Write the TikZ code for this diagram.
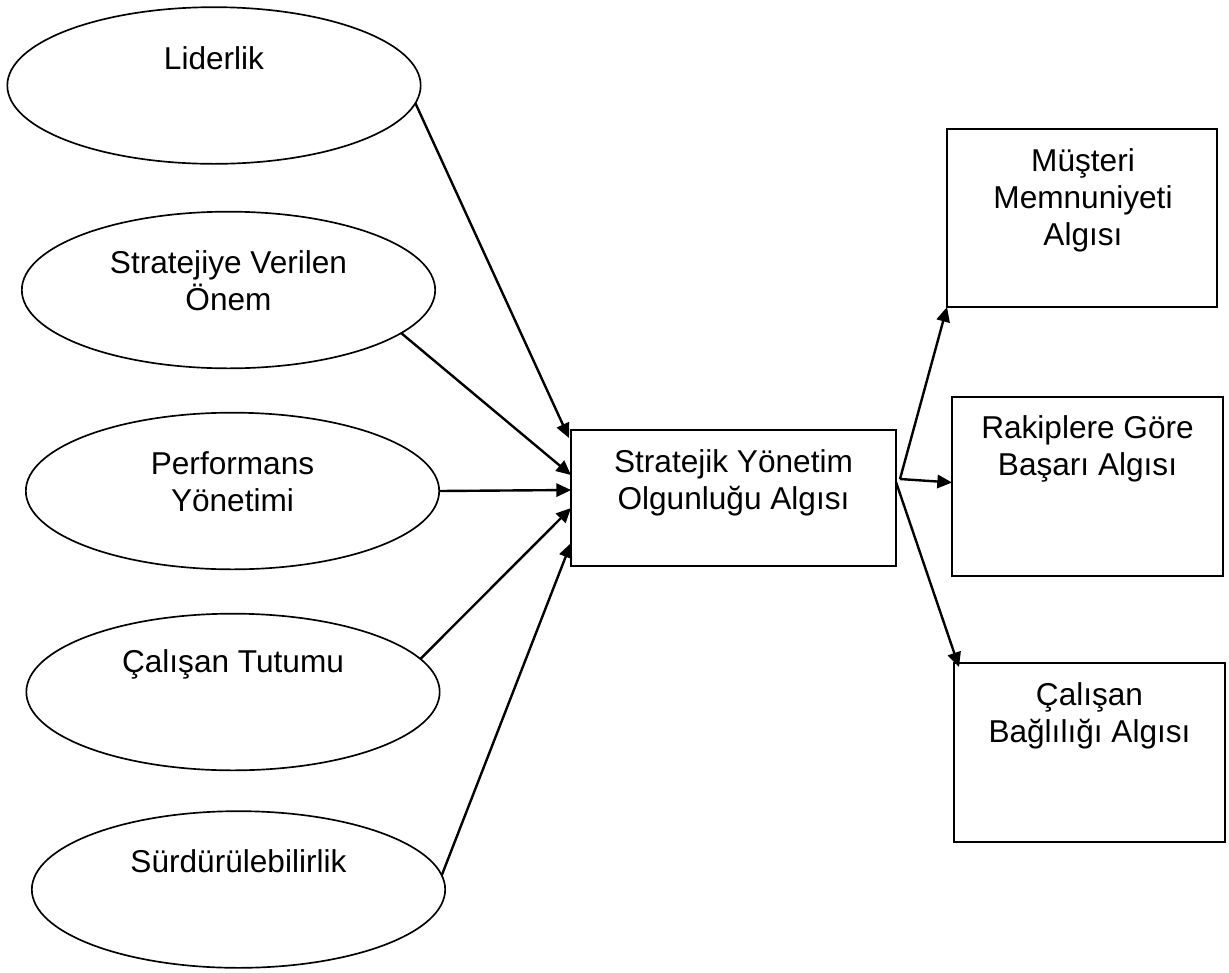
\documentclass[tikz,border=0pt]{standalone}
\usepackage{fontspec}
\setmainfont{Liberation Sans}
\usetikzlibrary{shapes.geometric,arrows.meta,calc}
\begin{document}
\begin{tikzpicture}[x=0.75pt,y=-0.75pt,
  oval/.style={draw,ellipse,line width=1.25pt,inner sep=0pt,outer sep=0pt,minimum width=310pt,minimum height=117.5pt},
  box/.style={draw,rectangle,line width=1.4pt,inner sep=0pt,outer sep=0pt},
  lbl/.style={align=center,inner sep=0pt,font=\fontsize{23.7}{27.75}\selectfont},
  arr/.style={line width=1.8pt,-{Triangle[length=11pt,width=10pt]}}]
\useasboundingbox (0,0) rectangle (1229,972);
% ellipses
\node[oval] (e1) at (214,85.5) {};
\node[oval] (e2) at (228.5,290) {};
\node[oval] (e3) at (232.5,491) {};
\node[oval] (e4) at (233,692) {};
\node[oval] (e5) at (238.5,889.5) {};
\node[lbl] (t1) at (214,58) {Liderlik};
\node[lbl] (t2) at (228.5,281) {Stratejiye Verilen\\Önem};
\node[lbl] (t3) at (232.5,482) {Performans\\Yönetimi};
\node[lbl] (t4) at (233,664) {Çalışan Tutumu};
\node[lbl] (t5) at (238.5,861) {Sürdürülebilirlik};
% boxes
\node[box,minimum width=243.75pt,minimum height=102pt] (c) at (733.5,498) {};
\node[box,minimum width=202.5pt,minimum height=133.5pt] (m) at (1082,218) {};
\node[box,minimum width=203.25pt,minimum height=134.25pt] (r) at (1087.5,486.5) {};
\node[box,minimum width=203.25pt,minimum height=134.25pt] (b) at (1089.5,752.5) {};
\node[lbl] (tc) at (733.5,483) {Stratejik Yönetim\\Olgunluğu Algısı};
\node[lbl] (tm) at (1083,200) {Müşteri\\Memnuniyeti\\Algısı};
\node[lbl] (tr) at (1087.5,449) {Rakiplere Göre\\Başarı Algısı};
\node[lbl] (tb) at (1089.5,716) {Çalışan\\Bağlılığı Algısı};
% incoming arrows
\draw[arr] (e1.-5) -- ($(c.north west)+(-2,8)$);
\draw[arr] (e2.-14) -- ($(c.north west)+(0,45)$);
\draw[arr] (e3.east) -- ($(c.north west)+(0,60)$);
\draw[arr] (e4.10) -- ($(c.north west)+(0,78)$);
\draw[arr] (e5.4.7) -- ($(c.north west)+(0,113)$);
% outgoing arrows
\coordinate (f) at ($(c.east)+(4,-19)$);
\draw[arr] (f) -- (m.south west);
\draw[arr] (f) -- ($(r.west)+(0,-4)$);
\draw[arr] ($(c.east)+(0,-16)$) -- ($(b.north west)+(5,4)$);
\end{tikzpicture}
\end{document}
